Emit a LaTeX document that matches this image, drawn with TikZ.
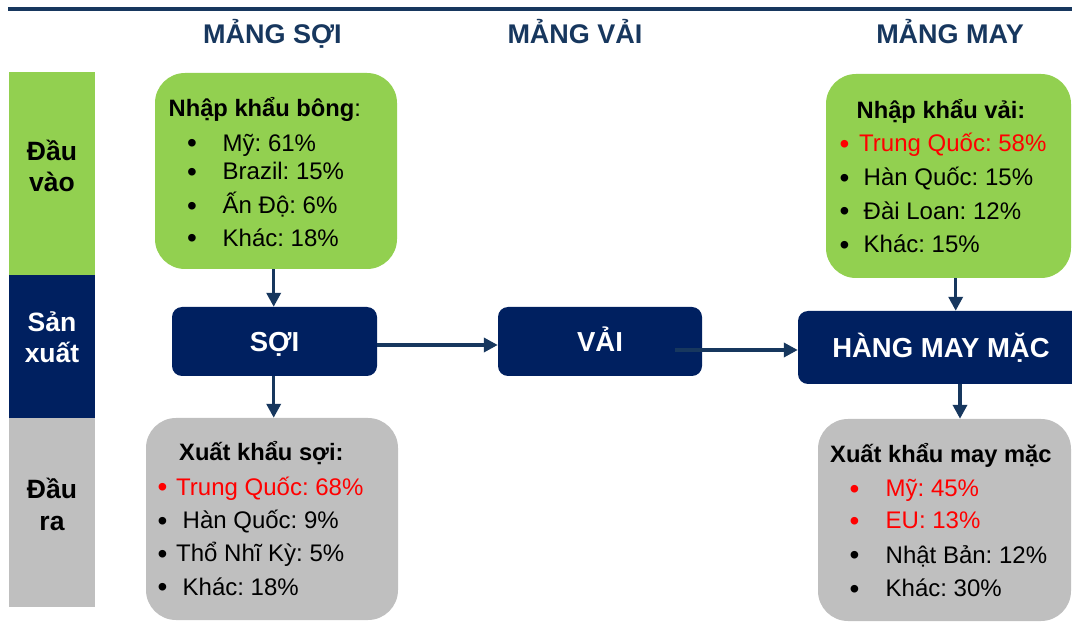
\documentclass[tikz,border=0pt]{standalone}
\usepackage{fontspec}
\setmainfont{Liberation Sans}
\usetikzlibrary{arrows.meta,calc}

\definecolor{navy}{HTML}{002060}
\definecolor{lineblue}{HTML}{17375E}
\definecolor{leafgreen}{HTML}{92D050}
\definecolor{boxgray}{HTML}{BFBFBF}
\definecolor{hotred}{HTML}{FF0000}

\frenchspacing
\newcommand{\bul}[2]{\makebox[#1pt][l]{\raisebox{-1.5pt}{\fontsize{28}{28}\selectfont•}}#2}

\tikzset{
  hdr/.style={anchor=base, text=lineblue, font=\bfseries\fontsize{27}{32}\selectfont},
  side/.style={anchor=base, align=center, font=\bfseries\fontsize{26.5}{31.5}\selectfont},
  card/.style={inner sep=0pt, rounded corners=30pt},
  stage/.style={inner sep=0pt, rounded corners=10pt, fill=navy, text=white,
    text height=19.5pt, text depth=0pt, font=\bfseries\fontsize{27.5}{32}\selectfont},
  ttl/.style={anchor=base west, inner sep=0pt, font=\fontsize{23.7}{28}\selectfont},
  itm/.style={anchor=base west, inner sep=0pt, font=\fontsize{24}{28}\selectfont},
  arr/.style={draw=lineblue, line width=3.5pt, -{Triangle[width=14pt,length=14pt]}}
}

\begin{document}
\begin{tikzpicture}[x=1pt,y=-1pt]
            \useasboundingbox (0,0) rectangle (1072,636);
            \clip (0,0) rectangle (1072,636);
            \draw[line width=4pt, lineblue] (8,9) -- (1072,9);
            % column headers
            \node [hdr] (Hsoi) at (272.5,44) {MẢNG SỢI};%
            \node [hdr] (Hvai) at (575,44) {MẢNG VẢI};%
            \node [hdr] (Hmay) at (950,44) {MẢNG MAY};%
            % left column
            \node [fill=leafgreen, inner sep=0, minimum width=86pt, minimum height=203pt] (In) at (52,173.5) {};%
            \node [fill=navy, inner sep=0, minimum width=86pt, minimum height=143pt] (Prod) at (52,346.5) {};%
            \node [fill=boxgray, inner sep=0, minimum width=86pt, minimum height=189pt] (Out) at (52,512.5) {};%
            \node [side] (InL) at (52,192) {Đầu\\vào};%
            \node [side, text=white] (ProdL) at (52,363) {Sản\\xuất};%
            \node [side] (OutL) at (52,530) {Đầu\\ra};%
            % boxes
            \node [card, fill=leafgreen, minimum width=242pt, minimum height=196pt] (Bong) at (276,171) {};%
            \node [card, fill=leafgreen, minimum width=245pt, minimum height=204pt] (NVai) at (948.5,176) {};%
            \node [card, fill=boxgray, minimum width=252pt, minimum height=202pt] (XSoi) at (272,519) {};%
            \node [card, fill=boxgray, minimum width=253pt, minimum height=202pt] (XMay) at (944.5,520) {};%
            \node [stage, minimum width=205pt, minimum height=69pt] (Soi) at (274.5,341.5) {SỢI};%
            \node [stage, minimum width=204pt, minimum height=69pt] (Vai) at (600,341.5) {VẢI};%
            \node [stage, minimum width=286pt, minimum height=73pt] (May) at (941,347.5) {HÀNG MAY MẶC};%
            % box texts
            \node [ttl] (BongT) at (168.5,117) {\textbf{Nhập khẩu bông}:};%
            \node [itm] (Bong1) at (187,151.5) {\bul{35.5}{Mỹ: 61\%}};%
            \node [itm] (Bong2) at (187,180) {\bul{35.5}{Brazil: 15\%}};%
            \node [itm] (Bong3) at (187,214) {\bul{35.5}{Ấn Độ: 6\%}};%
            \node [itm] (Bong4) at (187,246.5) {\bul{35.5}{Khác: 18\%}};%
            \node [ttl] (NVaiT) at (856.5,118.3) {\textbf{Nhập khẩu vải:}};%
            \node [itm, text=hotred] (NVai1) at (839.5,151.7) {\bul{19.5}{Trung Quốc: 58\%}};%
            \node [itm] (NVai2) at (839.5,186) {\bul{24}{Hàn Quốc: 15\%}};%
            \node [itm] (NVai3) at (839.5,219.3) {\bul{24}{Đài Loan: 12\%}};%
            \node [itm] (NVai4) at (839.5,252.7) {\bul{24}{Khác: 15\%}};%
            \node [ttl] (XSoiT) at (179,460.7) {\textbf{Xuất khẩu sợi:}};%
            \node [itm, text=hotred] (XSoi1) at (157.5,495) {\bul{18.5}{Trung Quốc: 68\%}};%
            \node [itm] (XSoi2) at (157.5,529) {\bul{25}{Hàn Quốc: 9\%}};%
            \node [itm] (XSoi3) at (157.5,561.7) {\bul{18.5}{Thổ Nhĩ Kỳ: 5\%}};%
            \node [itm] (XSoi4) at (157.5,595) {\bul{25}{Khác: 18\%}};%
            \node [ttl] (XMayT) at (830,462.3) {\textbf{Xuất khẩu may mặc}};%
            \node [itm, text=hotred] (XMay1) at (849.5,496.7) {\bul{36}{Mỹ: 45\%}};%
            \node [itm, text=hotred] (XMay2) at (849.5,529) {\bul{36}{EU: 13\%}};%
            \node [itm] (XMay3) at (849.5,563.3) {\bul{36}{Nhật Bản: 12\%}};%
            \node [itm] (XMay4) at (849.5,596.7) {\bul{36}{Khác: 30\%}};%
            % arrows
            \coordinate (VaiOut) at (675,350);
            \draw[arr] ([xshift=-0.8pt]Bong.south -| Soi.north) -- ([xshift=-0.8pt]Soi.north);
            \draw[arr] ([xshift=-0.8pt]Soi.south) -- ([xshift=-0.8pt]Soi.south |- XSoi.north);
            \draw[arr] ([yshift=-3.5pt]Soi.east) -- ([yshift=-3.5pt]Vai.west);
            \draw[arr] (VaiOut) -- (VaiOut -| May.west);
            \draw[arr] ([xshift=14.7pt]May.north |- NVai.south) -- ([xshift=14.7pt]May.north);
            \draw[arr] ([xshift=19pt]May.south) -- ([xshift=19pt]May.south |- XMay.north);
        \end{tikzpicture}
\end{document}
